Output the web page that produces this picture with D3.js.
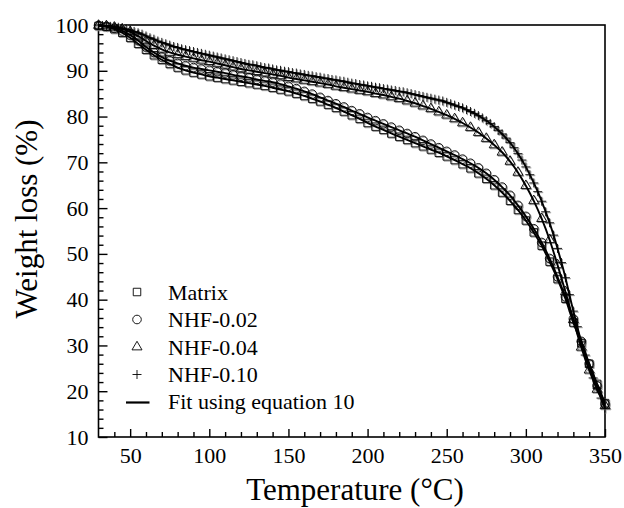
<!DOCTYPE html>
<html>
<head>
<meta charset="utf-8">
<script src="https://cdn.jsdelivr.net/npm/d3@7"></script>
<style>
  body { margin: 0; background: #fff; }
  svg { display: block; }
  text { font-family: "Liberation Serif", "Times New Roman", serif; fill: #000; }
</style>
</head>
<body>
<svg id="chart"></svg>
<script>
// sample temperatures (°C)
const temps = [30, 35, 40, 45, 50, 55, 60, 65, 70, 75, 80, 85, 90, 95, 100, 105, 110, 115, 120, 125,
  130, 135, 140, 145, 150, 155, 160, 165, 170, 175, 180, 185, 190, 195, 200, 205, 210, 215, 220, 225,
  230, 235, 240, 245, 250, 255, 260, 265, 270, 275, 280, 285, 290, 295, 300, 305, 310, 315, 320, 325,
  330, 335, 340, 345, 350];
const tempsFine = [30, 32.5, 35, 37.5, 40, 42.5, 45, 47.5, 50, 52.5, 55, 57.5, 60, 62.5, 65, 67.5, 70, 72.5,
  75, 77.5, 80, 82.5, 85, 87.5, 90, 92.5, 95, 97.5, 100, 102.5, 105, 107.5, 110, 112.5, 115, 117.5, 120,
  122.5, 125, 127.5, 130, 132.5, 135, 137.5, 140, 142.5, 145, 147.5, 150, 152.5, 155, 157.5, 160, 162.5,
  165, 167.5, 170, 172.5, 175, 177.5, 180, 182.5, 185, 187.5, 190, 192.5, 195, 197.5, 200, 202.5, 205,
  207.5, 210, 212.5, 215, 217.5, 220, 222.5, 225, 227.5, 230, 232.5, 235, 237.5, 240, 242.5, 245, 247.5,
  250, 252.5, 255, 257.5, 260, 262.5, 265, 267.5, 270, 272.5, 275, 277.5, 280, 282.5, 285, 287.5, 290,
  292.5, 295, 297.5, 300, 302.5, 305, 307.5, 310, 312.5, 315, 317.5, 320, 322.5, 325, 327.5, 330, 332.5,
  335, 337.5, 340, 342.5, 345, 347.5, 350];

// weight (%)
const matrix = [99.8, 99.6, 99.1, 98.3, 97.2, 95.9, 94.6, 93.4, 92.4, 91.5,
  90.7, 90.1, 89.6, 89.2, 88.8, 88.5, 88.2, 87.9, 87.6, 87.3,
  87.0, 86.7, 86.3, 85.9, 85.5, 85.0, 84.5, 83.9, 83.3, 82.6,
  81.9, 81.1, 80.3, 79.5, 78.6, 77.8, 77.1, 76.3, 75.6, 74.9,
  74.2, 73.5, 72.8, 72.1, 71.3, 70.5, 69.6, 68.7, 67.6, 66.4,
  65.0, 63.4, 61.6, 59.6, 57.3, 54.7, 51.8, 48.3, 44.5, 40.2,
  35.0, 30.5, 26.0, 21.6, 17.4];
const nhf002 = [99.9, 99.7, 99.3, 98.7, 97.8, 96.6, 95.2, 94.0, 93.0, 92.2,
  91.6, 91.1, 90.7, 90.4, 90.1, 89.8, 89.5, 89.1, 88.8, 88.5,
  88.1, 87.8, 87.5, 87.1, 86.6, 86.1, 85.5, 84.9, 84.2, 83.5,
  82.8, 82.1, 81.3, 80.6, 79.8, 79.1, 78.4, 77.7, 77.0, 76.3,
  75.6, 74.8, 74.0, 73.2, 72.4, 71.6, 70.7, 69.8, 68.8, 67.6,
  66.2, 64.6, 62.8, 60.6, 58.2, 55.5, 52.5, 49.0, 45.0, 40.6,
  35.8, 30.9, 26.0, 21.2, 17.2];
const nhf004 = [99.9, 99.8, 99.5, 99.1, 98.5, 97.6, 96.5, 95.5, 94.7, 94.0,
  93.5, 93.1, 92.7, 92.3, 92.0, 91.6, 91.2, 90.8, 90.4, 90.1,
  89.8, 89.5, 89.2, 88.9, 88.5, 88.2, 87.9, 87.6, 87.3, 87.0,
  86.6, 86.3, 86.0, 85.7, 85.4, 85.0, 84.7, 84.3, 83.9, 83.4,
  82.9, 82.3, 81.7, 81.0, 80.3, 79.5, 78.6, 77.6, 76.5, 75.2,
  73.8, 72.2, 70.2, 67.8, 64.9, 61.6, 57.7, 53.1, 47.6, 41.7,
  35.6, 29.6, 24.6, 20.4, 16.8];
const nhf010 = [100.0, 99.9, 99.8, 99.7, 99.6, 99.5, 99.3, 99.1, 98.9, 98.6, 98.3, 98.0, 97.6, 97.2,
  96.9, 96.5, 96.2, 95.9, 95.6, 95.3, 95.1, 94.8, 94.6, 94.4, 94.2, 94.0, 93.8, 93.6, 93.4,
  93.2, 93.0, 92.8, 92.6, 92.4, 92.2, 92.0, 91.8, 91.6, 91.4, 91.3, 91.1, 90.9, 90.7, 90.6,
  90.4, 90.2, 90.1, 89.9, 89.8, 89.6, 89.5, 89.3, 89.2, 89.0, 88.9, 88.7, 88.6, 88.4, 88.3,
  88.1, 88.0, 87.8, 87.7, 87.5, 87.3, 87.2, 87.0, 86.9, 86.7, 86.6, 86.4, 86.3, 86.1, 86.0,
  85.8, 85.7, 85.5, 85.4, 85.2, 85.0, 84.8, 84.6, 84.4, 84.2, 84.0, 83.8, 83.6, 83.4, 83.1,
  82.8, 82.5, 82.2, 81.9, 81.5, 81.1, 80.7, 80.2, 79.7, 79.1, 78.5, 77.8, 77.0, 76.2, 75.3,
  74.3, 73.2, 71.9, 70.5, 69.0, 67.3, 65.5, 63.6, 61.5, 59.2, 56.8, 54.1, 51.2, 48.1, 44.8,
  41.1, 37.5, 34.1, 30.8, 27.9, 25.3, 22.9, 20.6, 18.5, 16.3];

const seriesNames = ["Matrix", "NHF-0.02", "NHF-0.04", "NHF-0.10"];
const fitLabel = "Fit using equation 10";
const xTicks = [50, 100, 150, 200, 250, 300, 350];
const yTicks = [10, 20, 30, 40, 50, 60, 70, 80, 90, 100];

const width = 624;
const height = 508;
const serif = '"Liberation Serif", "Times New Roman", serif';

const series = [
  { name: seriesNames[0], t: temps, v: matrix, shape: "square" },
  { name: seriesNames[1], t: temps, v: nhf002, shape: "circle" },
  { name: seriesNames[2], t: temps, v: nhf004, shape: "triangle" },
  { name: seriesNames[3], t: tempsFine, v: nhf010, shape: "plus" }
];

const xScale = d3.scaleLinear().domain([30, 350]).range([98.5, 605]);
const yScale = d3.scaleLinear().domain([10, 100]).range([437, 25]);

const markerPath = (shape) => {
  switch (shape) {
    case "square": { const s = 7.5; return `M${-s/2},${-s/2}h${s}v${s}h${-s}Z`; }
    case "circle": return d3.symbol(d3.symbolCircle, Math.PI * 4.3 * 4.3)();
    case "triangle": { const s = 10, h = 8.6; return `M0,${-h*2/3}L${s/2},${h/3}L${-s/2},${h/3}Z`; }
    default: { const s = 9; return `M${-s/2},0H${s/2}M0,${-s/2}V${s/2}`; }
  }
};

const svg = d3.select("#chart").attr("width", width).attr("height", height);

// minor ticks
const xMinor = d3.range(40, 350, 10).filter(d => d % 50 !== 0);
const yMinor = d3.range(12, 100, 2).filter(d => d % 10 !== 0);

svg.append("g")
  .attr("transform", `translate(0,${yScale(10)})`)
  .call(d3.axisBottom(xScale).tickValues(xMinor).tickSize(-5).tickSizeOuter(0).tickFormat(""))
  .call(g => g.select(".domain").remove());
svg.append("g")
  .attr("transform", `translate(${xScale(30)},0)`)
  .call(d3.axisLeft(yScale).tickValues(yMinor).tickSize(-5).tickSizeOuter(0).tickFormat(""))
  .call(g => g.select(".domain").remove());

// major ticks
svg.append("g")
  .attr("transform", `translate(0,${yScale(10)})`)
  .attr("font-family", serif)
  .call(d3.axisBottom(xScale).tickValues(xTicks).tickSize(-8).tickSizeOuter(0).tickPadding(10.5).tickFormat(d3.format("d")))
  .call(g => g.select(".domain").remove());
svg.append("g")
  .attr("transform", `translate(${xScale(30)},0)`)
  .call(d3.axisLeft(yScale).tickValues(yTicks).tickSize(-9).tickSizeOuter(0).tickPadding(10).tickFormat(d3.format("d")))
  .call(g => g.select(".domain").remove());

svg.selectAll("g").attr("font-family", serif).attr("font-size", 22);
svg.selectAll(".tick line").attr("stroke", "#000").attr("stroke-width", 1.4);
svg.selectAll(".tick text")
  .style("font-family", serif)
  .style("font-size", "22px")
  .attr("fill", "#000");

// frame
svg.append("rect")
  .attr("x", xScale(30)).attr("y", yScale(100))
  .attr("width", xScale(350) - xScale(30)).attr("height", yScale(10) - yScale(100))
  .attr("fill", "none").attr("stroke", "#000").attr("stroke-width", 1.6);

const plot = svg.append("g");

// marker shadows (grey) then markers
series.forEach(s => {
  plot.append("g").selectAll("path")
    .data(s.t.map((t, i) => [t, s.v[i]]))
    .enter().append("path")
    .attr("d", markerPath(s.shape))
    .attr("transform", d => `translate(${xScale(d[0]) + 1},${yScale(d[1]) + 1})`)
    .attr("fill", "none").attr("stroke", "#9a9a9a").attr("stroke-width", 1);
});
series.forEach(s => {
  plot.append("g").selectAll("path")
    .data(s.t.map((t, i) => [t, s.v[i]]))
    .enter().append("path")
    .attr("d", markerPath(s.shape))
    .attr("transform", d => `translate(${xScale(d[0])},${yScale(d[1])})`)
    .attr("fill", "none").attr("stroke", "#000").attr("stroke-width", 0.9);
});

// fit lines
const line = d3.line()
  .x(d => xScale(d[0]))
  .y(d => yScale(d[1]))
  .curve(d3.curveMonotoneX);
series.forEach(s => {
  plot.append("path")
    .datum(s.t.map((t, i) => [t, s.v[i]]))
    .attr("d", line)
    .attr("fill", "none").attr("stroke", "#000").attr("stroke-width", 1.9);
});

// legend
const legend = svg.append("g");
const rowY = [292, 319.5, 347, 374.5, 402.5];
series.forEach((s, i) => {
  legend.append("path")
    .attr("d", markerPath(s.shape))
    .attr("transform", `translate(137,${rowY[i]})`)
    .attr("fill", "none").attr("stroke", "#000").attr("stroke-width", 0.9);
  legend.append("text")
    .attr("x", 168).attr("y", rowY[i] + 7.5)
    .style("font-size", "22px")
    .text(s.name);
});
legend.append("line")
  .attr("x1", 126).attr("x2", 149.5)
  .attr("y1", rowY[4]).attr("y2", rowY[4])
  .attr("stroke", "#000").attr("stroke-width", 2.2);
legend.append("text")
  .attr("x", 168).attr("y", rowY[4] + 6)
  .style("font-size", "22px")
  .text(fitLabel);

// axis titles
svg.append("text")
  .attr("x", 355).attr("y", 500)
  .attr("text-anchor", "middle")
  .style("font-size", "31px")
  .text("Temperature (°C)");
svg.append("text")
  .attr("transform", "translate(37,219) rotate(-90)")
  .attr("text-anchor", "middle")
  .style("font-size", "31px")
  .text("Weight loss (%)");
</script>
</body>
</html>
